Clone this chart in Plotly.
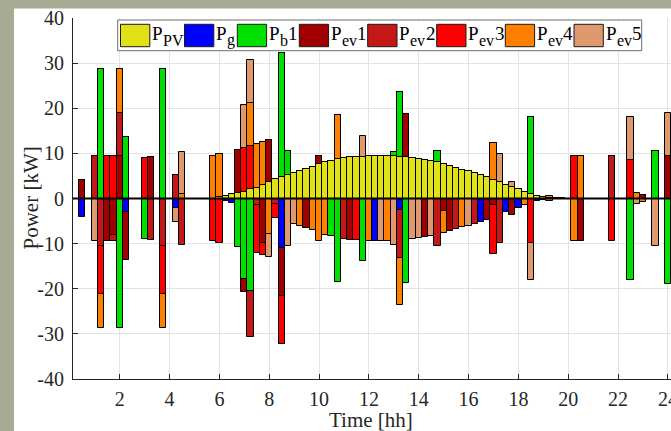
import plotly.graph_objects as go

# 15-minute slots over one day (hours)
time_h = [q / 4 for q in range(1, 97)]

# Power per slot [kW]; positive = injected, negative = absorbed (rows of 3 h)
p_pv = [
    0, 0, 0, 0, 0, 0, 0, 0, 0, 0, 0, 0,
    0, 0, 0, 0, 0, 0, 0, 0, 0, 0, 0, 0.35,
    0.6, 1.0, 1.2, 1.5, 2.1, 2.4, 3.0, 3.6, 4.3, 4.7, 5.2, 5.6,
    6.1, 6.6, 7.0, 7.6, 8.0, 8.4, 8.7, 8.9, 9.1, 9.2, 9.3, 9.4,
    9.5, 9.5, 9.5, 9.4, 9.3, 9.1, 9.0, 8.8, 8.6, 8.3, 8.1, 7.6,
    7.2, 6.8, 6.4, 6.0, 5.6, 5.1, 4.7, 4.1, 3.6, 3.0, 2.6, 2.0,
    1.5, 1.0, 0.6, 0.3, 0.1, 0.1, 0.05, 0, 0, 0, 0, 0,
    0, 0, 0, 0, 0, 0, 0, 0, 0, 0, 0, 0,
]
p_g = [
    0, -4.0, 0, 0, 0, 0, 0, 0, -3.0, 0, 0, 0,
    0, 0, 0, 0, -2.1, 0, 0, 0, 0, 0, 0, 0,
    -0.6, -1.0, 0, 0, 0, 0, 0, 0, 0, -11.0, 0, 0,
    0, 0, 0, 0, 0, 0, 0, 0, 0, 0, 0, 0,
    -9.5, 0, 0, 0, -2.6, 0, 0, 0, 0, 0, 0, 0,
    0, 0, 0, 0, 0, -5.1, 0, 0, 0, -3.0, 0, -2.0,
    0, 0, -0.6, -0.3, 0, -0.1, -0.05, 0, 0, 0, 0, 0,
    0, 0, 0, 0, 0, 0, 0, 0, 0, 0, 0, 0,
]
p_b1 = [
    0, 0, 0, 0, 28.7, 0, 0, -28.6, 13.6, 0, 0, -9.0,
    0, 0, 28.7, 0, 0, 0, 0, 0, 0, 0, 0, 0,
    0, 0, -10.8, -17.8, -20.4, 0, 0, 0, 0, 27.5, 5.3, 0,
    0, 0, 0, 0, 0, -8.4, -18.4, 0, 0, 0, -13.9, 0,
    0, 0, 0, 1.0, 14.3, -18.7, 0, 0, 0, 0, 2.4, 0,
    0, 0, 0, 0, 0, 0, 0, 0, 0, 0, 0, 0,
    0, 17.1, 0, 0, 0, 0, 0, 0, 0, 0, 0, 0,
    0, 0, 0, 0, 0, -18.0, 0, 0, 0, 10.5, 0, -19.0,
]
p_ev1 = [
    0, 4.0, 0, 0, 0, -9.5, -8.0, 9.5, -10.6, 0, 0, 0,
    9.2, 0, 0, 0, 0, 0, 0, 0, 0, 0, 0, 0,
    0, 0, 9.6, -2.9, 0, 0, -9.9, 9.4, 0, -10.7, 0, 0,
    0, -6.6, 0, 1.8, 0, 0, 0, 0, -9.1, 0, 0, 0,
    0, 0, 0, 0, 0, 9.6, 0, 0, -8.6, 0, 0, -2.8,
    -7.2, 0, 0, 0, 0, 0, -4.7, -1.5, 0, 0, -3.7, 0,
    0, 0, 0, 0, 0, 0, 0, 0, 0, -9.5, 0, 0,
    0, 0, 0, 0, 0, 0, 0, 0.7, 0, 0, 0, 9.5,
]
p_ev2 = [
    0, 0, 0, 9.5, -10.5, 0, -1.5, 9.5, 0, 0, 0, 0,
    -9.2, 0, -10.5, 0, 5.2, -10.4, 0, 0, 0, 0, 0, 0,
    0, 0, 0, 0, -10.2, -1.5, 0, 0, -1.2, 0, 0, 0,
    0, 0, 0, 0, 0, 0, 0, -8.9, 0, 0, 0, 0,
    0, 0, 0, 0, -10.6, 0, 0, 0, 0, 0, -10.5, 0,
    0, -6.8, 0, 0, -5.6, 0, 0, 0, -9.8, 0, 0, 0,
    0, 0, 0, 0, 0, 0, 0, 0, 0, 0, 0, 0,
    0, 0, 9.5, 0, 0, 0, 0, 0, 0, 0, 0, 0,
]
p_ev3 = [
    0, 0, 0, 0, -10.6, 9.5, 9.5, 0, 0, 0, 0, 8.9,
    0, 0, -10.6, 0, 0, 0, 0, 0, 0, 0, -9.5, -9.85,
    0, 0, 0, 9.6, 9.5, -10.5, -2.7, 0, -3.1, -10.5, 0, 0,
    0, 0, 0, 0, 0, 0, 0, 0, 0, -9.2, 0, 0,
    0, 0, 0, 0, 0, 0, 0, 0, 0, 0, 0, 0,
    0, 0, 0, 0, 0, 0, 0, -10.7, 0, 0, 0, 0,
    0, -9.9, 0, 0, 0, 0, 0, 0, 9.5, 0, 0, 0,
    0, 0, -9.5, 0, 0, 8.5, 0, 0, 0, 0, 0, 0,
]
p_ev4 = [
    0, 0, 0, 0, -7.6, 0, 0, 9.6, 0, 0, 0, 0,
    0, 0, -7.6, 0, 0, 1.0, 0, 0, 0, 0, 9.5, 9.5,
    0, 0, 0, 0, 9.5, 9.6, 9.6, -7.9, 0, 0, 0, 0,
    -6.1, 0, -7.0, -9.4, -8.0, 0, 9.7, 0, 0, 0, 0, -9.4,
    0, 0, -9.5, 0, -10.5, 0, 0, 0, 0, 0, 0, -4.8,
    0, 0, -6.4, 0, 0, 0, 0, 8.1, 0, 0, 0, 0,
    -1.5, 0, 0, 0, 0.4, 0, 0, 0, -9.5, 9.5, 0, 0,
    0, 0, 0, 0, 0, 0, 1.3, -0.7, 0, 0, 0, 0,
]
p_ev5 = [
    0, 0, 0, -9.5, 0, 0, 0, 0, 0, 0, 0, 0,
    0, 0, 0, 0, -3.1, 9.4, 0, 0, 0, 0, 0, 0,
    0, 0, 0, 9.6, 9.5, 0, 0, -5.1, 0, 0, -10.5, -5.6,
    0, 0, 0, 0, 0, 0, 0, 0, 0, 0, 4.6, 0,
    0, -9.5, 0, -10.4, 0, 0, -9.0, -8.8, 0, -8.3, 0, 0,
    0, 0, 0, -6.0, 0, 0, 0, 0, 6.2, 0, 1.1, 0,
    0, -8.2, 0, 0, -0.5, 0, 0, 0, 0, 0, 0, 0,
    0, 0, 0, 0, 0, 9.5, -1.3, 0, 0, -10.5, 0, 9.5,
]

series = [p_pv, p_g, p_b1, p_ev1, p_ev2, p_ev3, p_ev4, p_ev5]
# legend label pieces: main symbol, subscript, trailing index
names = ["P_PV", "P_g", "P_b1", "P_ev1", "P_ev2", "P_ev3", "P_ev4", "P_ev5"]
label_sub = ["PV", "g", "b", "ev", "ev", "ev", "ev", "ev"]
label_idx = ["", "", "1", "1", "2", "3", "4", "5"]
colors = ["#e1e117", "#0000ff", "#00e000", "#a00000",
          "#c41818", "#ff0000", "#ff8000", "#e0986f"]

y_ticks = [-40, -30, -20, -10, 0, 10, 20, 30, 40]
y_ticktext = ["-40", "-30", "-20", "-10", "0", "10", "20", "30", "40"]
x_ticks = [2, 4, 6, 8, 10, 12, 14, 16, 18, 20, 22, 24]
x_ticktext = ["2", "4", "6", "8", "10", "12", "14", "16", "18", "20", "22", "24"]

FONT = "Liberation Serif"
INK = "#262626"
W, H = 671, 431
L, T, PW, PH = 73, 18, 598, 361

# approximate Times advance widths (em) for legend layout
EM = {"P": 0.556, "V": 0.722, "g": 0.5, "b": 0.5, "e": 0.444, "v": 0.5}


def fx(px):
    return (px - L) / PW


def fy(py):
    return (T + PH - py) / PH


fig = go.Figure()
for vals, name, col in zip(series, names, colors):
    fig.add_trace(go.Bar(
        x=time_h, y=vals, name=name,
        marker=dict(color=col, line=dict(color="black", width=1)),
        showlegend=False,
    ))

shapes = []
# figure frame bands
olive = "#a8ab93"
shapes.append(dict(type="rect", xref="paper", yref="paper", layer="below",
                   x0=fx(0), x1=fx(W + 2), y0=fy(0), y1=fy(8.5),
                   fillcolor=olive, line=dict(width=0)))
shapes.append(dict(type="rect", xref="paper", yref="paper", layer="below",
                   x0=fx(0), x1=fx(14), y0=fy(H + 2), y1=fy(0),
                   fillcolor=olive, line=dict(width=0)))
# bar baseline
shapes.append(dict(type="line", xref="paper", yref="y", x0=0, x1=1, y0=0, y1=0,
                   line=dict(color="black", width=2), layer="above"))

# legend frame, swatches and labels
shapes.append(dict(type="rect", xref="paper", yref="paper", layer="above",
                   x0=fx(117.7), x1=fx(641.7), y0=fy(50.7), y1=fy(20),
                   fillcolor="white", line=dict(color="#6e6e6e", width=1)))
swatch_left = [120.5, 184.5, 237.3, 299.3, 367.7, 436.7, 505.3, 574.0]
annotations = []
MAIN, SUB = 19, 16
for sx, sub, idx, col in zip(swatch_left, label_sub, label_idx, colors):
    shapes.append(dict(type="rect", xref="paper", yref="paper", layer="above",
                       x0=fx(sx), x1=fx(sx + 29.3), y0=fy(46.7), y1=fy(24.3),
                       fillcolor=col, line=dict(color="#1a1a1a", width=1)))
    tx = sx + 30.5
    annotations.append(dict(xref="paper", yref="paper", x=fx(tx), y=fy(33.5),
                            xanchor="left", yanchor="middle", showarrow=False,
                            borderpad=0, text="P",
                            font=dict(family=FONT, size=MAIN, color="black")))
    tx += EM["P"] * MAIN + 0.5
    annotations.append(dict(xref="paper", yref="paper", x=fx(tx), y=fy(40.5),
                            xanchor="left", yanchor="middle", showarrow=False,
                            borderpad=0, text=sub,
                            font=dict(family=FONT, size=SUB, color="black")))
    tx += sum(EM[c] for c in sub) * SUB + 0.5
    if idx:
        annotations.append(dict(xref="paper", yref="paper", x=fx(tx), y=fy(33.5),
                                xanchor="left", yanchor="middle", showarrow=False,
                                borderpad=0, text=idx,
                                font=dict(family=FONT, size=MAIN, color="black")))

annotations.append(dict(xref="paper", yref="paper", x=fx(371), y=fy(420),
                        xanchor="center", yanchor="middle", showarrow=False,
                        text="Time [hh]", font=dict(family=FONT, size=21, color=INK)))
annotations.append(dict(xref="paper", yref="paper", x=fx(30), y=fy(198.5),
                        xanchor="center", yanchor="middle", showarrow=False, textangle=-90,
                        text="Power [kW]", font=dict(family=FONT, size=21, color=INK)))

fig.update_layout(
    width=W, height=H,
    margin=dict(l=L, r=W - L - PW, t=T, b=H - T - PH, pad=0, autoexpand=False),
    paper_bgcolor="white", plot_bgcolor="white",
    barmode="relative", bargap=0,
    font=dict(family=FONT, size=20, color=INK),
    shapes=shapes, annotations=annotations,
    xaxis=dict(range=[0.125, 24.125], tickvals=x_ticks, ticktext=x_ticktext,
               ticks="inside", ticklen=5, tickcolor=INK, showline=True, linecolor=INK,
               linewidth=1, showgrid=True, gridcolor="#e3e3e3", gridwidth=1,
               zeroline=False, ticklabeloverflow="allow", ticklabelstandoff=2,
               automargin=False,
               tickfont=dict(family=FONT, size=20, color=INK)),
    yaxis=dict(range=[-40, 40], tickvals=y_ticks, ticktext=y_ticktext,
               ticks="inside", ticklen=5, tickcolor=INK, showline=True, linecolor=INK,
               linewidth=1, showgrid=True, gridcolor="#e3e3e3", gridwidth=1,
               zeroline=False, ticklabelstandoff=4, automargin=False,
               tickfont=dict(family=FONT, size=20, color=INK)),
)

fig.write_html("out.html")
